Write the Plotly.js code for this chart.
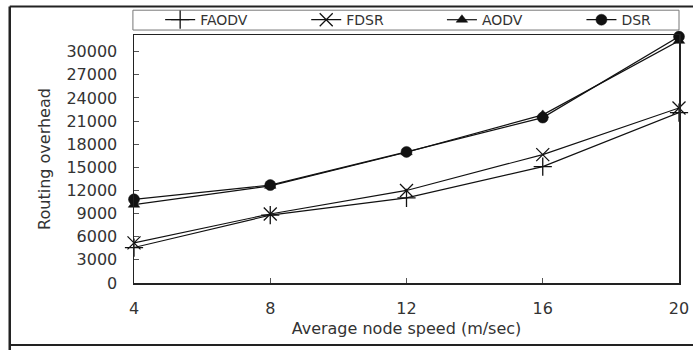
<!DOCTYPE html>
<html>
<head>
<meta charset="utf-8">
<script src="https://cdn.plot.ly/plotly-3.0.1.min.js"></script>
<style>html,body{margin:0;padding:0;background:#fff;}#chart{width:693px;height:353px;}</style>
</head>
<body>
<div id="chart"></div>
<script>
var speeds = [4, 8, 12, 16, 20];
var faodv = [4600, 8800, 11050, 15100, 22100];
var fdsr  = [5200, 8950, 12000, 16650, 22700];
var aodv  = [10150, 12600, 16950, 21800, 31400];
var dsr   = [10850, 12700, 17000, 21450, 31950];
var seriesNames = ['FAODV', 'FDSR', 'AODV', 'DSR'];
var yTickVals = [0, 3000, 6000, 9000, 12000, 15000, 18000, 21000, 24000, 27000, 30000];
var xTickVals = [4, 8, 12, 16, 20];

var fontFam = 'DejaVu Sans, sans-serif';
var txtCol = '#333';

function tr(name, ys, symbol, size, lw, leg) {
  return {
    x: speeds, y: ys, name: name, type: 'scatter', mode: 'lines+markers',
    line: {color: '#111', width: 1.2},
    marker: {symbol: symbol, size: size, color: '#111', line: {color: '#111', width: lw}},
    cliponaxis: false, legend: leg
  };
}

var data = [
  tr(seriesNames[0], faodv, 'cross-thin-open', 13, 1.3, 'legend'),
  tr(seriesNames[1], fdsr, 'x-thin-open', 13, 1.3, 'legend2'),
  tr(seriesNames[2], aodv, 'triangle-up', 10, 0.5, 'legend3'),
  tr(seriesNames[3], dsr, 'circle', 11, 0.5, 'legend4')
];

function leg(x) {
  return {
    orientation: 'h', x: x, xanchor: 'left', y: 1.06, yanchor: 'middle',
    font: {family: fontFam, size: 14, color: txtCol},
    bgcolor: 'rgba(0,0,0,0)', borderwidth: 0, itemclick: false
  };
}

var layout = {
  width: 693, height: 353,
  margin: {l: 134, r: 14, t: 35, b: 70, autoexpand: false},
  paper_bgcolor: '#fff', plot_bgcolor: '#fff',
  font: {family: fontFam, color: txtCol, size: 15},
  showlegend: true,
  legend: leg(0.048), legend2: leg(0.316), legend3: leg(0.565), legend4: leg(0.821),
  xaxis: {
    range: [4, 20], tickvals: xTickVals, ticktext: xTickVals.map(String),
    showgrid: false, zeroline: false, showline: true, linecolor: '#222', linewidth: 1.5,
    mirror: true, ticks: 'inside', ticklen: 5, tickcolor: '#555',
    tickfont: {family: fontFam, size: 16, color: txtCol}, ticklabelstandoff: 10,
    title: {text: 'Average node speed (m/sec)', font: {family: fontFam, size: 16, color: txtCol}, standoff: 6}
  },
  yaxis: {
    range: [0, 32160], tickvals: yTickVals, ticktext: yTickVals.map(String),
    showgrid: false, zeroline: false, showline: true, linecolor: '#222', linewidth: 1.5,
    mirror: true, ticks: 'inside', ticklen: 5, tickcolor: '#555',
    tickfont: {family: fontFam, size: 16, color: txtCol}, ticklabelstandoff: 12,
    title: {text: 'Routing overhead', font: {family: fontFam, size: 16, color: txtCol}, standoff: 12}
  },
  shapes: [
    {type: 'rect', xref: 'paper', yref: 'paper', x0: -0.002, x1: 1.0, y0: 1.02, y1: 1.1,
     line: {color: '#777', width: 1}},
    {type: 'line', xref: 'paper', yref: 'paper', x0: -0.228, x1: 1.03, y0: 1.115, y1: 1.115,
     line: {color: '#222', width: 2}},
    {type: 'line', xref: 'paper', yref: 'paper', x0: -0.228, x1: -0.228, y0: -0.27, y1: 1.115,
     line: {color: '#222', width: 2.5}},
    {type: 'line', xref: 'paper', yref: 'paper', x0: -0.228, x1: 1.03, y0: -0.25, y1: -0.25,
     line: {color: '#222', width: 2}}
  ]
};

Plotly.newPlot('chart', data, layout, {staticPlot: true, displayModeBar: false});
</script>
</body>
</html>
